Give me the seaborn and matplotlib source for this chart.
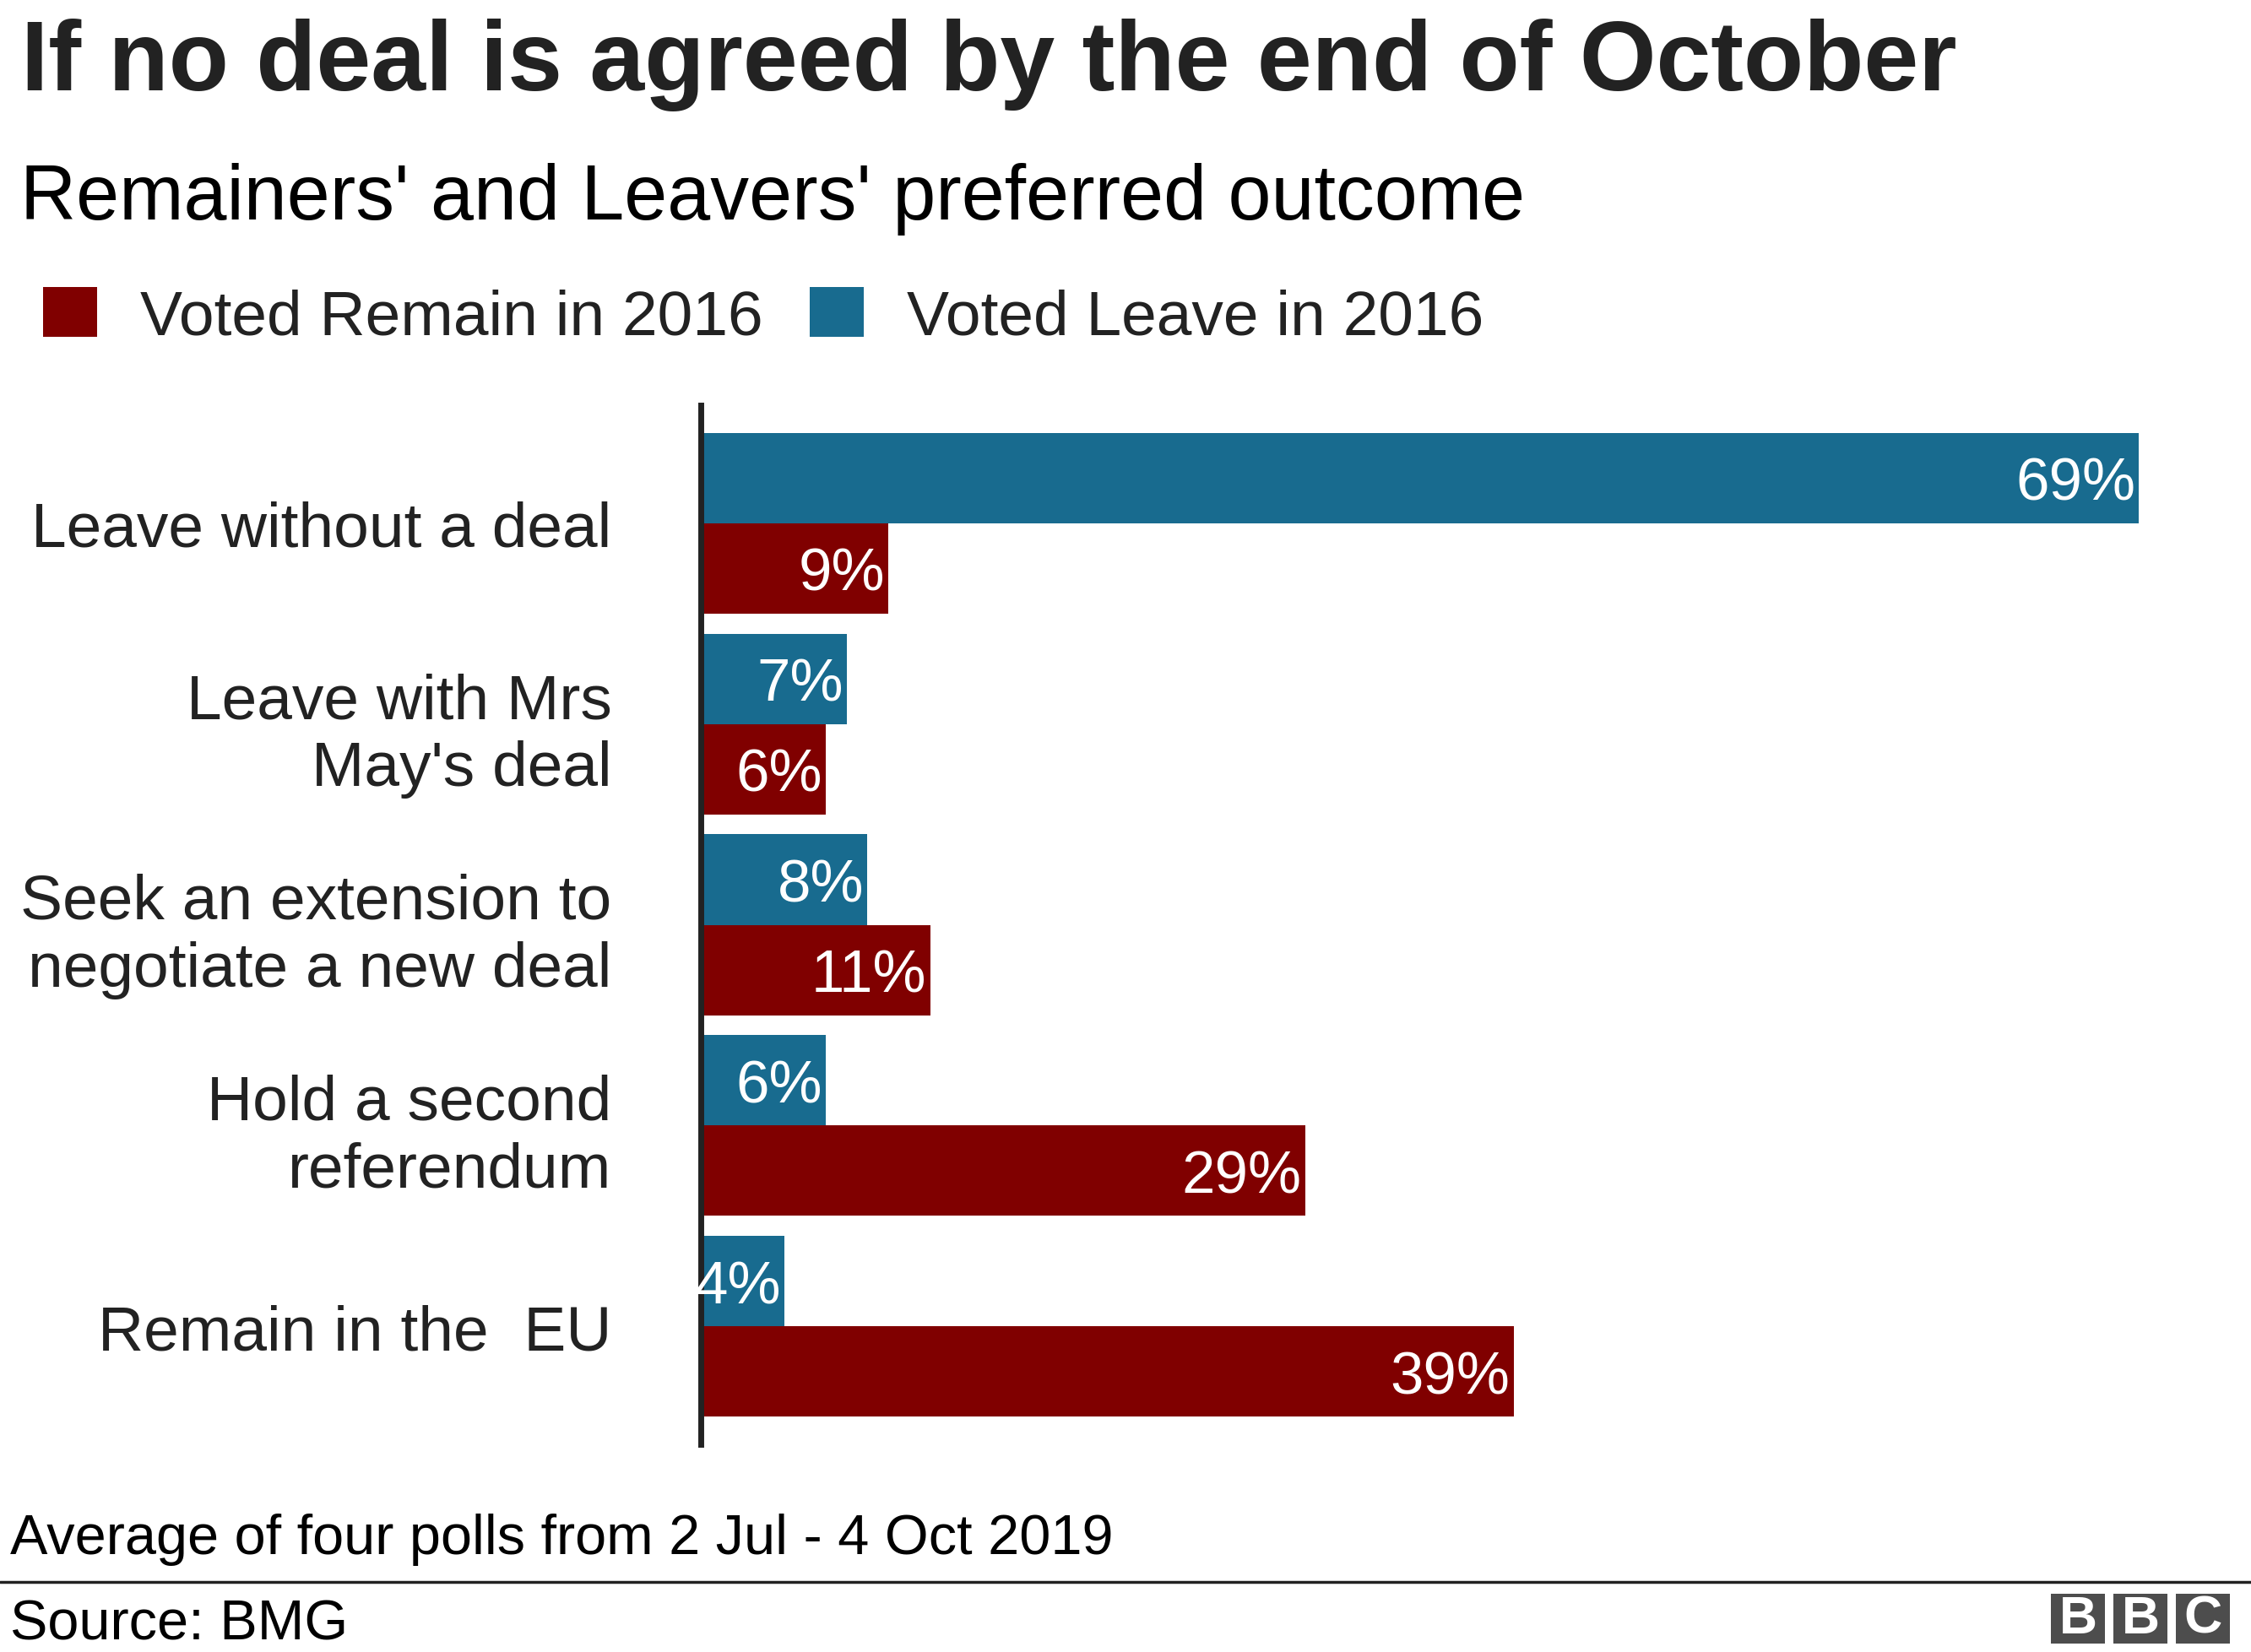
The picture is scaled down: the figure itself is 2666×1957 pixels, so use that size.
import pandas as pd
import seaborn as sns
import matplotlib.pyplot as plt
from matplotlib.patches import Rectangle

# Data
outcomes = ["Leave without a deal", "Leave with Mrs\nMay's deal",
            "Seek an extension to\nnegotiate a new deal",
            "Hold a second\nreferendum", "Remain in the  EU"]
remain_pct = [9, 6, 11, 29, 39]
leave_pct = [69, 7, 8, 6, 4]
groups = ["Voted Remain in 2016", "Voted Leave in 2016"]
colours = {"Voted Remain in 2016": "#800000", "Voted Leave in 2016": "#186b8f"}

df = pd.DataFrame({
    "outcome": outcomes * 2,
    "pct": remain_pct + leave_pct,
    "group": [groups[0]] * len(outcomes) + [groups[1]] * len(outcomes),
})

sns.set_style("white")
plt.rcParams["font.family"] = ["Liberation Sans", "DejaVu Sans"]
text_col = "#222222"

W, H = 2666, 1958
fig = plt.figure(figsize=(W / 100, H / 100), dpi=100)
ax = fig.add_axes([830 / W, 1 - 1712 / H, 1802 / W, (1712 - 481) / H])

sns.barplot(data=df, y="outcome", x="pct", hue="group", order=outcomes,
            hue_order=[groups[1], groups[0]], palette=colours, orient="h",
            width=0.9, saturation=1, linewidth=0, ax=ax)

ax.set_xlim(0, 73)
ax.set_ylim(len(outcomes) - 0.5 + 0.088, -0.588)
ax.set_xlabel("")
ax.set_ylabel("")
ax.set_xticks([])
for s in ["top", "right", "bottom"]:
    ax.spines[s].set_visible(False)
ax.spines["left"].set_color(text_col)
ax.spines["left"].set_linewidth(5)
ax.tick_params(axis="y", length=0, pad=76, labelsize=54, labelcolor=text_col)
for t in ax.get_yticklabels():
    t.set_linespacing(1.2)

# value labels inside bar ends
for cont in ax.containers:
    vals = [int(round(b.get_width())) for b in cont]
    texts = ax.bar_label(cont, labels=[f"{v}%" for v in vals], padding=-3,
                         color="white", fontsize=51)
    for t in texts:
        t.set_ha("right")
        t.set_va("center_baseline")

# legend (Remain first)
handles, labels = ax.get_legend_handles_labels()
ax.get_legend().remove()
fig.legend([handles[1], handles[0]], [labels[1], labels[0]], loc="center left",
           bbox_to_anchor=(51 / W, 1 - 376 / H), ncol=2, frameon=False,
           fontsize=54, handlelength=0.85, handleheight=0.85, handletextpad=0.68,
           columnspacing=0.74, borderpad=0, borderaxespad=0, labelcolor=text_col)

# titles
fig.text(25 / W, 1 - 107 / H, "If no deal is agreed by the end of October",
         fontsize=84, fontweight="bold", color=text_col, va="baseline")
fig.text(24 / W, 1 - 260 / H, "Remainers' and Leavers' preferred outcome",
         fontsize=66, color="black", va="baseline")

# footer
fig.text(12 / W, 1 - 1841 / H, "Average of four polls from 2 Jul - 4 Oct 2019",
         fontsize=48, color="black", va="baseline")
fig.add_artist(plt.Line2D([0, 1], [1 - 1875 / H] * 2, color=text_col, lw=2.5,
                          transform=fig.transFigure))
fig.text(12 / W, 1 - 1943 / H, "Source: BMG", fontsize=48, color="black",
         va="baseline")

# BBC blocks
for i, letter in enumerate("BBC"):
    x0 = 2429 + i * 74
    fig.add_artist(Rectangle((x0 / W, 1 - 1948 / H), 64 / W, 59 / H,
                             transform=fig.transFigure, color="#4d4d4d", lw=0))
    fig.text((x0 + 32) / W, 1 - 1918.5 / H, letter, fontsize=45, fontweight="bold",
             color="white", ha="center", va="center")

fig.savefig("out.png", dpi=100, facecolor="white")
